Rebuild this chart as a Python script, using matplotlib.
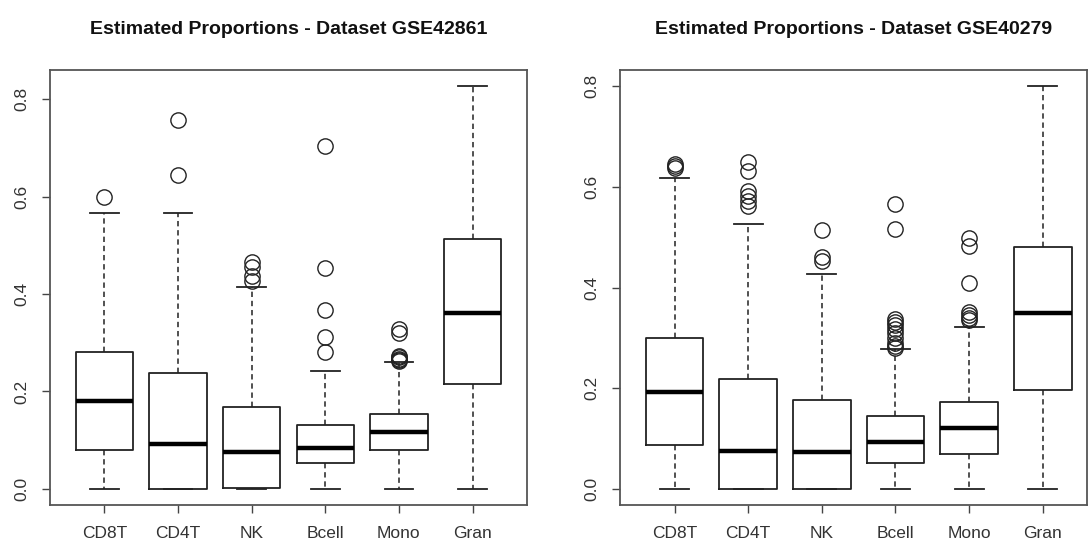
#!/usr/bin/env python3
"""Two R-style boxplots of estimated cell-type proportions."""
import matplotlib as mpl
mpl.use("Agg")
import matplotlib.pyplot as plt

plt.rcParams["font.family"] = ["Liberation Sans", "DejaVu Sans"]

cells = ["CD8T", "CD4T", "NK", "Bcell", "Mono", "Gran"]

# ---- GSE42861 (left) ----
l_q1 = [0.079, 0.000, 0.002, 0.053, 0.079, 0.215]
l_med = [0.181, 0.093, 0.076, 0.084, 0.116, 0.361]
l_q3 = [0.281, 0.237, 0.168, 0.131, 0.153, 0.514]
l_lo = [0.000, 0.000, 0.000, 0.000, 0.000, 0.000]
l_hi = [0.567, 0.567, 0.414, 0.243, 0.261, 0.827]
l_out = [
    [0.600],
    [0.757, 0.645],
    [0.465, 0.455, 0.438, 0.427],
    [0.705, 0.453, 0.367, 0.312, 0.281],
    [0.329, 0.321, 0.272, 0.270, 0.267, 0.265, 0.262],
    [],
]

# ---- GSE40279 (right) ----
r_q1 = [0.087, 0.000, 0.000, 0.051, 0.070, 0.197]
r_med = [0.193, 0.076, 0.073, 0.093, 0.120, 0.349]
r_q3 = [0.300, 0.219, 0.177, 0.145, 0.172, 0.481]
r_lo = [0.000, 0.000, 0.000, 0.000, 0.000, 0.000]
r_hi = [0.617, 0.527, 0.427, 0.277, 0.322, 0.800]
r_out = [
    [0.645, 0.641, 0.637],
    [0.649, 0.632, 0.592, 0.582, 0.572, 0.562],
    [0.515, 0.460, 0.453],
    [0.565, 0.516, 0.338, 0.332, 0.325, 0.318, 0.310, 0.300, 0.290, 0.283, 0.279],
    [0.499, 0.482, 0.408, 0.352, 0.345, 0.340, 0.336],
    [],
]

INK = "#222222"


def stats(q1, med, q3, lo, hi, out):
    return [dict(label=c, q1=a, med=m, q3=b, whislo=w0, whishi=w1, fliers=f)
            for c, a, m, b, w0, w1, f in zip(cells, q1, med, q3, lo, hi, out)]


def panel(ax, st, title, xlim):
    ax.bxp(st, positions=range(1, 7), widths=0.78, capwidths=0.39,
           boxprops=dict(color=INK, lw=1.3),
           medianprops=dict(color="black", lw=3.2, solid_capstyle="butt"),
           whiskerprops=dict(color=INK, lw=1.1, ls=(0, (3.5, 2.5))),
           capprops=dict(color=INK, lw=1.3),
           flierprops=dict(marker="o", mfc="none", mec=INK, ms=11, mew=1.0))
    top = max(max(s["whishi"], max(s["fliers"], default=0)) for s in st)
    pad = 0.04 * top
    ax.set_ylim(-pad, top + pad)
    ax.set_xlim(*xlim)
    ax.set_yticks([0, 0.2, 0.4, 0.6, 0.8])
    ax.set_yticklabels(["0.0", "0.2", "0.4", "0.6", "0.8"], rotation=90, va="center")
    ax.tick_params(colors="#444444", labelcolor="#333333", labelsize=12.5,
                   length=6, width=1.0, pad=9)
    ax.tick_params(axis="x", labelsize=12.5, pad=9)
    for sp in ax.spines.values():
        sp.set_color("#555555"); sp.set_linewidth(1.3)
    ax.set_title(title, fontweight="bold", fontsize=14, pad=26, color="#111111")


fig = plt.figure(figsize=(10.89, 5.5), dpi=100)
axL = fig.add_axes([50/1089, 45/550, 477/1089, 435/550])
axR = fig.add_axes([620/1089, 45/550, 467/1089, 435/550])
panel(axL, stats(l_q1, l_med, l_q3, l_lo, l_hi, l_out),
      "Estimated Proportions - Dataset GSE42861", (0.26, 6.74))
panel(axR, stats(r_q1, r_med, r_q3, r_lo, r_hi, r_out),
      "Estimated Proportions - Dataset GSE40279", (0.26, 6.60))
fig.savefig("out.png", dpi=100)
